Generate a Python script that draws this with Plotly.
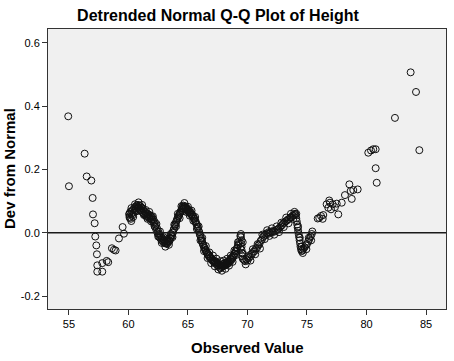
import plotly.graph_objects as go

tail_low_x = [54.94, 55.00, 56.32, 56.49, 56.88, 56.99, 57.02, 57.16, 57.21, 57.30, 57.35,
              57.38, 57.38, 57.80, 57.80, 58.17, 58.30, 58.61, 58.78, 58.92, 59.20, 59.51,
              59.62, 60.10, 60.10, 60.24]
tail_low_y = [0.368, 0.147, 0.250, 0.178, 0.165, 0.110, 0.058, 0.030, -0.012, -0.040, -0.068,
              -0.103, -0.123, -0.123, -0.096, -0.089, -0.093, -0.049, -0.054, -0.056, -0.018, 0.018,
              -0.003, 0.061, 0.047, 0.037]

band_x = [60.05, 60.10, 60.15, 60.20, 60.25, 60.30, 60.35, 60.40, 60.45, 60.50, 60.55, 60.60,
          60.65, 60.70, 60.75, 60.80, 60.85, 60.90, 60.95, 61.00, 61.05, 61.10, 61.15, 61.20,
          61.25, 61.30, 61.35, 61.40, 61.45, 61.50, 61.55, 61.60, 61.65, 61.70, 61.75, 61.80,
          61.85, 61.90, 61.95, 62.00, 62.05, 62.10, 62.15, 62.20, 62.25, 62.30, 62.35, 62.40,
          62.45, 62.50, 62.55, 62.60, 62.65, 62.70, 62.75, 62.80, 62.85, 62.90, 62.95, 63.00,
          63.05, 63.10, 63.15, 63.20, 63.25, 63.30, 63.35, 63.40, 63.45, 63.50, 63.55, 63.60,
          63.65, 63.70, 63.75, 63.80, 63.85, 63.90, 63.95, 64.00, 64.05, 64.10, 64.15, 64.20,
          64.25, 64.30, 64.35, 64.40, 64.45, 64.50, 64.55, 64.60, 64.62, 64.65, 64.70, 64.75,
          64.80, 64.85, 64.90, 64.95, 65.00, 65.05, 65.10, 65.15, 65.20, 65.25, 65.30, 65.35,
          65.40, 65.45, 65.50, 65.55, 65.60, 65.65, 65.70, 65.75, 65.80, 65.85, 65.90, 65.95,
          66.00, 66.05, 66.10, 66.15, 66.20, 66.25, 66.30, 66.35, 66.40, 66.45, 66.50, 66.55,
          66.60, 66.65, 66.70, 66.75, 66.80, 66.85, 66.90, 66.95, 67.00, 67.05, 67.10, 67.15,
          67.20, 67.25, 67.30, 67.35, 67.40, 67.45, 67.50, 67.55, 67.60, 67.65, 67.70, 67.75,
          67.80, 67.85, 67.90, 67.95, 68.00, 68.05, 68.10, 68.15, 68.20, 68.25, 68.30, 68.35,
          68.40, 68.45, 68.50, 68.55, 68.60, 68.65, 68.70, 68.75, 68.80, 68.85, 68.90, 68.95,
          69.00, 69.05, 69.10, 69.15, 69.20, 69.25, 69.30,
          69.45, 69.45, 69.50, 69.45, 69.50, 69.50, 69.55, 69.55, 69.60,
          69.70, 69.80, 69.90, 70.00, 70.10, 70.20, 70.30, 70.40, 70.50, 70.60, 70.70, 70.80,
          70.90, 71.00, 71.10, 71.20, 71.30, 71.40, 71.50, 71.60, 71.70, 71.80, 71.90, 72.00,
          72.10, 72.20, 72.30, 72.40, 72.50, 72.60, 72.70, 72.80, 72.90, 73.00, 73.10, 73.20,
          73.30, 73.40, 73.50, 73.60, 73.70, 73.80, 73.90, 74.00,
          74.05, 74.10, 74.14, 74.18, 74.22, 74.26, 74.30, 74.34, 74.38, 74.42, 74.46, 74.50,
          74.55, 74.62, 74.70, 74.80, 74.90, 75.00, 75.10, 75.20, 75.30, 75.40]
band_y = [0.058, 0.050, 0.066, 0.044, 0.060, 0.070, 0.056, 0.074, 0.064, 0.078, 0.070, 0.083,
          0.074, 0.086, 0.078, 0.088, 0.080, 0.086, 0.076, 0.084, 0.072, 0.080, 0.066, 0.076,
          0.062, 0.070, 0.058, 0.066, 0.054, 0.062, 0.050, 0.060, 0.052, 0.058, 0.046, 0.055,
          0.046, 0.052, 0.042, 0.048, 0.036, 0.042, 0.028, 0.034, 0.018, 0.024, 0.008, 0.014,
          -0.002, 0.004, -0.010, -0.004, -0.016, -0.010, -0.022, -0.016, -0.026, -0.020, -0.030, -0.024,
          -0.033, -0.026, -0.034, -0.028, -0.035, -0.027, -0.030, -0.022, -0.026, -0.016, -0.018, -0.008,
          -0.010, 0.000, 0.002, 0.010, 0.014, 0.022, 0.026, 0.034, 0.038, 0.044, 0.048, 0.052,
          0.056, 0.060, 0.064, 0.068, 0.072, 0.078, 0.082, 0.086, 0.076, 0.082, 0.080, 0.084,
          0.076, 0.080, 0.072, 0.076, 0.068, 0.072, 0.064, 0.068, 0.060, 0.064, 0.056, 0.058,
          0.050, 0.052, 0.044, 0.044, 0.036, 0.036, 0.028, 0.026, 0.018, 0.014, 0.006, 0.002,
          -0.006, -0.010, -0.018, -0.024, -0.030, -0.036, -0.040, -0.046, -0.048, -0.054, -0.056, -0.062,
          -0.062, -0.068, -0.068, -0.074, -0.074, -0.080, -0.078, -0.084, -0.082, -0.088, -0.086, -0.092,
          -0.088, -0.094, -0.090, -0.098, -0.094, -0.102, -0.096, -0.104, -0.100, -0.110, -0.102, -0.112,
          -0.104, -0.108, -0.100, -0.106, -0.098, -0.104, -0.096, -0.102, -0.094, -0.100, -0.092, -0.098,
          -0.090, -0.094, -0.086, -0.090, -0.082, -0.086, -0.078, -0.080, -0.072, -0.074, -0.066, -0.066,
          -0.058, -0.058, -0.050, -0.048, -0.040, -0.036, -0.028,
          -0.004, -0.014, -0.024, -0.034, -0.044, -0.054, -0.064, -0.074, -0.082,
          -0.086, -0.090, -0.084, -0.088, -0.080, -0.076, -0.068, -0.066, -0.060, -0.058, -0.050, -0.048,
          -0.040, -0.036, -0.026, -0.022, -0.014, -0.010, -0.006, -0.002, -0.004, 0.002, 0.000, 0.004,
          0.002, 0.006, 0.004, 0.008, 0.010, 0.012, 0.016, 0.020, 0.024, 0.030, 0.032, 0.036,
          0.038, 0.042, 0.044, 0.048, 0.050, 0.054, 0.056, 0.060,
          0.056, 0.046, 0.036, 0.026, 0.016, 0.006, -0.004, -0.014, -0.024, -0.034, -0.044, -0.052,
          -0.058, -0.056, -0.050, -0.046, -0.040, -0.036, -0.028, -0.020, -0.012, -0.004]

# points on the upper / lower edges of the dense band
edge_x = [60.25, 60.40, 60.55, 60.70, 60.85, 61.00, 61.15, 61.30, 61.45, 61.60, 61.75, 61.90,
          62.05, 62.20, 62.35, 62.50, 62.65, 62.80, 62.95, 63.10, 63.25, 63.40, 63.55, 63.70,
          63.85, 64.00, 64.15, 64.30, 64.45, 64.55, 64.70, 64.85, 65.00, 65.15, 65.30, 65.45,
          65.60, 65.75, 65.90, 66.05, 66.20, 66.35, 66.50, 66.65, 66.80, 66.95, 67.10, 67.25,
          67.40, 67.55, 67.70, 67.85, 68.00, 68.15, 68.30, 68.45, 68.60, 68.75, 68.90, 69.05,
          69.20, 69.40, 69.40, 69.60, 69.62, 69.85, 70.05, 70.25, 70.45, 70.65, 70.85, 71.05,
          71.25, 71.45, 71.65, 71.85, 72.05, 72.25, 72.45, 72.65, 72.85, 73.05, 73.25, 73.45,
          73.65, 73.85, 73.95, 74.10, 74.25, 74.40, 74.55, 74.65, 74.95, 75.15, 75.35, 75.45]
edge_y = [0.078, 0.050, 0.090, 0.068, 0.096, 0.070, 0.088, 0.056, 0.072, 0.044, 0.066, 0.036,
          0.052, 0.020, 0.028, -0.012, 0.004, -0.032, -0.014, -0.044, -0.020, -0.038, -0.004, -0.014,
          0.026, 0.020, 0.060, 0.046, 0.084, 0.068, 0.094, 0.066, 0.082, 0.054, 0.070, 0.038,
          0.050, 0.012, 0.020, -0.024, -0.016, -0.058, -0.042, -0.080, -0.062, -0.096, -0.072, -0.106,
          -0.082, -0.116, -0.090, -0.120, -0.088, -0.114, -0.082, -0.104, -0.072, -0.092, -0.056, -0.070,
          -0.030, -0.010, -0.050, -0.030, -0.066, -0.100, -0.074, -0.088, -0.052, -0.068, -0.036, -0.050,
          -0.006, -0.020, 0.008, -0.010, 0.014, -0.006, 0.020, 0.002, 0.032, 0.018, 0.048, 0.030,
          0.060, 0.044, 0.066, 0.060, 0.020, -0.016, -0.044, -0.064, -0.052, -0.016, -0.024, 0.004]

tail_high_x = [75.90, 76.03, 76.18, 76.37, 76.32, 76.65, 76.79, 76.87, 76.93, 77.02, 77.16, 77.35,
               77.50, 77.63, 77.92, 78.19, 78.56, 78.67, 78.89, 78.76, 79.26, 80.15, 80.38,
               80.57, 80.77, 80.77, 80.86, 82.39, 83.71, 84.16, 84.44]
tail_high_y = [0.045, 0.047, 0.053, 0.056, 0.044, 0.090, 0.079, 0.102, 0.095, 0.074, 0.090, 0.081,
               0.092, 0.058, 0.095, 0.119, 0.153, 0.132, 0.135, 0.107, 0.137, 0.253, 0.260,
               0.264, 0.264, 0.204, 0.158, 0.363, 0.507, 0.445, 0.261]

obs_value = tail_low_x + band_x + edge_x + tail_high_x
dev_from_normal = tail_low_y + band_y + edge_y + tail_high_y

x_ticks = [55, 60, 65, 70, 75, 80, 85]
y_ticks = [-0.2, 0.0, 0.2, 0.4, 0.6]
y_tick_labels = ["-0.2", "0.0", "0.2", "0.4", "0.6"]

FONT = "Liberation Sans, Arial, sans-serif"

fig = go.Figure()
fig.add_trace(go.Scatter(
    x=obs_value, y=dev_from_normal, mode="markers",
    marker=dict(symbol="circle-open", size=7, color="#111111", line=dict(width=1, color="#111111")),
    hoverinfo="x+y", showlegend=False,
))

fig.add_shape(type="line", xref="paper", x0=0, x1=1, yref="y", y0=0, y1=0,
              line=dict(color="#1a1a1a", width=1.3), layer="above")

fig.update_layout(
    width=454, height=361,
    margin=dict(l=48, r=8, t=29, b=52),
    paper_bgcolor="white", plot_bgcolor="#F0F0F0",
    font=dict(family=FONT, size=11, color="#000000"),
    title=dict(text="Detrended Normal Q-Q Plot of Height", x=218/454, xref="container",
               xanchor="center", y=1 - 15/361, yref="container", yanchor="middle",
               font=dict(family=FONT, size=16, color="#000000", weight="bold")),
    xaxis=dict(range=[53.24, 86.68], tickvals=x_ticks, ticks="outside", ticklen=5,
               tickcolor="#333333", showgrid=False, zeroline=False, showline=True,
               linecolor="#333333", linewidth=1, mirror=True,
               tickfont=dict(size=11, family=FONT)),
    yaxis=dict(range=[-0.241, 0.644], tickvals=y_ticks, ticktext=y_tick_labels,
               ticks="outside", ticklen=5, tickcolor="#333333", showgrid=False,
               zeroline=False, showline=True, linecolor="#333333", linewidth=1, mirror=True,
               tickfont=dict(size=11, family=FONT)),
    annotations=[
        dict(text="Observed Value", xref="paper", x=0.5, yref="paper", y=-(347 - 309) / 280,
             xanchor="center", yanchor="middle", showarrow=False,
             font=dict(family=FONT, size=15, color="#000000", weight="bold")),
        dict(text="Dev from Normal", xref="paper", x=-(48 - 9) / 398, yref="paper", y=0.5,
             xanchor="center", yanchor="middle", textangle=-90, showarrow=False,
             font=dict(family=FONT, size=15, color="#000000", weight="bold")),
    ],
)

fig.write_html("out.html", config={"displayModeBar": False},
               post_script="document.body.style.margin='0px';")
